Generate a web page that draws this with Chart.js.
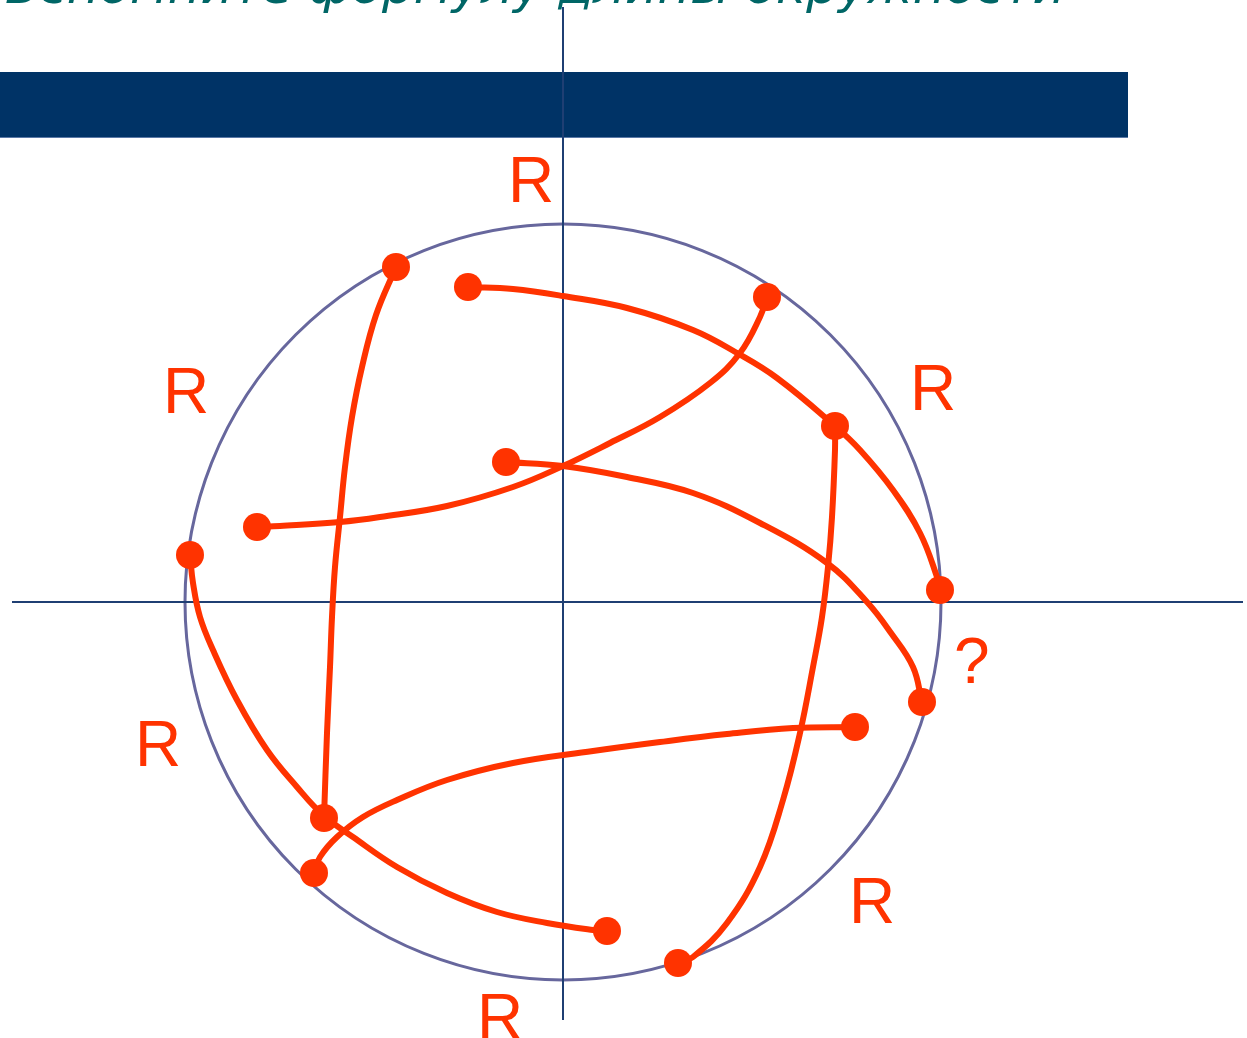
<!DOCTYPE html>
<html>
<head>
<meta charset="utf-8">
<script src="https://cdn.jsdelivr.net/npm/chart.js@4"></script>
<style>
  body { margin: 0; background: #fff; }
  #wrap { width: 1247px; height: 1038px; }
</style>
</head>
<body>
<div id="wrap"><canvas id="circle-chart" width="1247" height="1038"></canvas></div>
<script>
// circle radius and curve points, measured from the centre (y up)
const radius = 378;
const title = 'Вспомните формулу длины окружности';

const curveA = [[-167, 335], [-187, 287], [-201, 235], [-211, 185], [-218, 135], [-223, 85], [-228, 35], [-231, -15], [-233, -65], [-236, -131], [-239, -216]];
const curveB = [[-95, 315], [-50, 313], [0, 306], [64, 294], [130, 272], [174, 249], [214, 224], [272, 176], [297, 152], [330, 112], [357, 69], [374, 25], [377, 12]];
const curveC = [[204, 305], [197, 285], [177, 249], [147, 219], [97, 185], [47, 159], [0, 136], [-50, 115], [-116, 96], [-183, 85], [-223, 80], [-283, 76], [-306, 75]];
const curveD = [[-57, 140], [0, 136], [64, 125], [130, 109], [197, 79], [264, 39], [304, 0], [328, -31], [350, -65], [359, -100]];
const curveE = [[272, 176], [272, 152], [269, 85], [265, 35], [259, -15], [250, -65], [237, -131], [220, -198], [197, -265], [164, -321], [130, -355], [115, -361]];
const curveF = [[-373, 47], [-370, 19], [-363, -15], [-350, -48], [-326, -98], [-296, -148], [-266, -185], [-240, -213], [-210, -235], [-166, -265], [-116, -291], [-66, -310], [-16, -321], [30, -328], [44, -329]];
const curveG = [[292, -125], [230, -126], [164, -132], [97, -140], [30, -149], [-50, -161], [-116, -178], [-166, -198], [-200, -215], [-226, -235], [-243, -255], [-249, -271]];

const dots = [
  [-167, 335], [-95, 315], [204, 305], [272, 176], [-57, 140], [-306, 75], [-373, 47],
  [377, 12], [359, -100], [292, -125], [-239, -216], [-249, -271], [44, -329], [115, -361]
];

const xAxisLine = [[-551, 0], [680, 0]];
const yAxisLine = [[0, 595], [0, -418]];

const labelTexts = ['R', 'R', 'R', 'R', 'R', 'R', '?'];
const labelSpots = [[-55, 400], [-400, 189], [347, 192], [-428, -164], [286, -321], [-86, -437], [391, -81]];

const toXY = arr => arr.map(p => ({ x: p[0], y: p[1] }));
const red = '#ff3300';

function curve(points) {
  return {
    data: toXY(points),
    borderColor: red,
    borderWidth: 6,
    pointRadius: 0,
    tension: 0.4,
    fill: false,
    order: 2
  };
}

// background bar, circle, title and labels
const decor = {
  id: 'decor',
  beforeDatasetsDraw(chart) {
    const { ctx, scales: { x, y } } = chart;
    ctx.save();
    ctx.fillStyle = '#003366';
    ctx.fillRect(0, 72, 1128, 66);
    ctx.fillStyle = '#5a78a6';
    ctx.fillRect(0, 137, 1128, 1);

    const cx = x.getPixelForValue(0);
    const cy = y.getPixelForValue(0);
    const r = x.getPixelForValue(radius) - cx;
    ctx.beginPath();
    ctx.arc(cx, cy, r, 0, Math.PI * 2);
    ctx.strokeStyle = '#67679d';
    ctx.lineWidth = 3;
    ctx.stroke();
    ctx.restore();
  },
  afterDraw(chart) {
    const { ctx, scales: { x, y } } = chart;
    ctx.save();
    ctx.font = '64px "Liberation Sans", Arial, sans-serif';
    ctx.fillStyle = red;
    ctx.textBaseline = 'alphabetic';
    labelTexts.forEach((t, i) => {
      ctx.fillText(t, x.getPixelForValue(labelSpots[i][0]), y.getPixelForValue(labelSpots[i][1]));
    });

    ctx.font = 'italic 46px "DejaVu Sans", sans-serif';
    ctx.fillStyle = '#006666';
    const w = ctx.measureText(title).width;
    ctx.translate(5, 3);
    ctx.scale(1060 / w, 1);
    ctx.fillText(title, 0, 0);
    ctx.restore();
  }
};

new Chart(document.getElementById('circle-chart'), {
  type: 'line',
  data: {
    datasets: [
      {
        data: toXY(dots),
        showLine: false,
        backgroundColor: red,
        borderWidth: 0,
        pointRadius: 14,
        order: 1
      },
      curve(curveA), curve(curveB), curve(curveC), curve(curveD),
      curve(curveE), curve(curveF), curve(curveG),
      {
        data: toXY(xAxisLine),
        borderColor: '#1f3f73',
        borderWidth: 2,
        pointRadius: 0,
        order: 3
      },
      {
        data: toXY(yAxisLine),
        borderColor: '#1f3f73',
        borderWidth: 2,
        pointRadius: 0,
        order: 3
      }
    ]
  },
  options: {
    responsive: false,
    animation: false,
    layout: { padding: 0, autoPadding: false },
    plugins: { legend: { display: false }, tooltip: { enabled: false } },
    scales: {
      x: { type: 'linear', min: -563, max: 684, display: false },
      y: { type: 'linear', min: -436, max: 602, display: false }
    }
  },
  plugins: [decor]
});
</script>
</body>
</html>
